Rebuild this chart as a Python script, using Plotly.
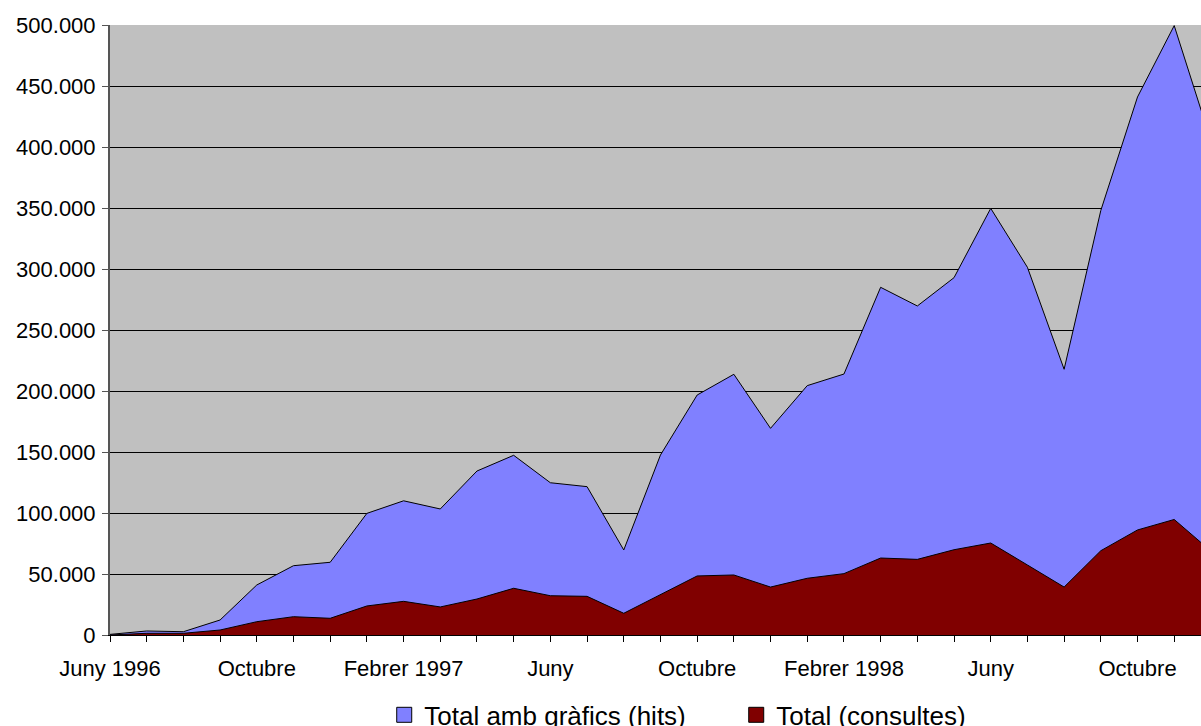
import plotly.graph_objects as go

# months from Juny 1996 to Desembre 1998 (last one falls off the right edge)
months = ["Juny 1996", "Juliol", "Agost", "Setembre", "Octubre", "Novembre", "Desembre",
          "Gener 1997", "Febrer 1997", "Març", "Abril", "Maig", "Juny", "Juliol", "Agost",
          "Setembre", "Octubre", "Novembre", "Desembre", "Gener 1998", "Febrer 1998",
          "Març", "Abril", "Maig", "Juny", "Juliol", "Agost", "Setembre", "Octubre",
          "Novembre", "Desembre"]
shown_labels = ["Juny 1996", "Octubre", "Febrer 1997", "Juny", "Octubre",
                "Febrer 1998", "Juny", "Octubre"]

hits = [500, 3300, 2700, 12300, 41000, 56800, 59600, 99700, 110000, 103300,
        134400, 147300, 124800, 121600, 69700, 147500, 196700, 213700, 169400,
        204400, 213900, 285000, 269700, 292900, 349700, 301400, 217800, 348000,
        441000, 499500, 405000]
consultes = [0, 1400, 1400, 4100, 10900, 15000, 13700, 23800, 27600, 23000,
             29500, 38300, 32200, 31700, 17800, 33400, 48400, 49200, 39300,
             46500, 50300, 63100, 62000, 69900, 75400, 57400, 39300, 69100,
             86100, 94700, 68800]

x = list(range(len(months)))
ticktext = [m if (i % 4 == 0) else "" for i, m in enumerate(months)]
ticktext = [t if t in shown_labels else "" for t in ticktext]

fig = go.Figure()
fig.add_trace(go.Scatter(x=x, y=hits, fill="tozeroy", mode="lines",
                         fillcolor="#8080FF", line=dict(color="black", width=1),
                         showlegend=False, hoverinfo="skip"))
fig.add_trace(go.Scatter(x=x, y=consultes, fill="tozeroy", mode="lines",
                         fillcolor="#800000", line=dict(color="black", width=1),
                         showlegend=False, hoverinfo="skip"))

# legend squares like the spreadsheet ones
for name, col in [("Total amb gràfics (hits)", "#8080FF"), ("Total (consultes)", "#800000")]:
    fig.add_trace(go.Scatter(x=[None], y=[None], mode="markers", name=name,
                             marker=dict(symbol="square", size=15, color=col,
                                         line=dict(color="black", width=1))))

# legend sits at the very bottom, partly cut off like in the original
fig.update_layout(
    width=1201, height=726,
    margin=dict(l=110, r=0, t=25, b=91, autoexpand=False),
    paper_bgcolor="white", plot_bgcolor="#C0C0C0",
    font=dict(family="Liberation Sans, Arial", size=22, color="black"),
    separators=",.",
    legend=dict(orientation="h", x=0.574, xanchor="center", y=-0.131, yanchor="middle",
                font=dict(size=26), entrywidth=307, bgcolor="rgba(0,0,0,0)"),
)
fig.update_xaxes(range=[0, 29.73], tickvals=x, ticktext=ticktext, ticks="outside",
                 ticklen=6, tickcolor="black", showline=True, linecolor="black",
                 linewidth=1, showgrid=False, zeroline=False, ticklabelstandoff=8)
fig.update_yaxes(range=[0, 500000], dtick=50000, tickformat=",d", ticks="outside",
                 ticklen=6, tickcolor="#555", showline=True, linecolor="#555",
                 linewidth=2, showgrid=True, gridcolor="black", gridwidth=1,
                 zeroline=False, ticklabelstandoff=2)

# drop the default page margin so the figure sits at the window corner
fig.write_html("out.html", config={"displayModeBar": False},
               post_script="document.body.style.margin='0';document.body.style.overflow='hidden';")
